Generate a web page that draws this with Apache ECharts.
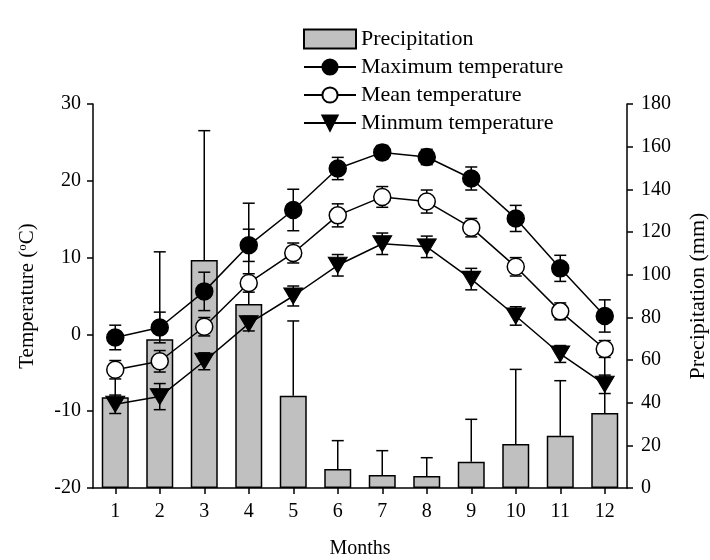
<!DOCTYPE html>
<html>
<head>
<meta charset="utf-8">
<script src="https://cdn.jsdelivr.net/npm/echarts@6/dist/echarts.min.js"></script>
<style>
  html, body { margin: 0; padding: 0; background: #fff; }
  #chart { width: 710px; height: 560px; }
</style>
</head>
<body>
<div id="chart"></div>
<script>
// data
var months = ['1', '2', '3', '4', '5', '6', '7', '8', '9', '10', '11', '12'];
var precip = [42.5, 69.7, 106.9, 86.3, 43.3, 8.9, 6.1, 5.6, 12.3, 20.6, 24.5, 35.2];
var precipErr = [12, 41, 60.6, 47.2, 35, 13.3, 11.4, 8.6, 19.9, 35, 25.8, 30];
var tMax = [-0.4, 0.9, 5.6, 11.6, 16.2, 21.6, 23.7, 23.1, 20.3, 15.1, 8.6, 2.4];
var tMaxErr = [1.6, 2.0, 2.5, 2.1, 2.7, 1.45, 0.9, 1.0, 1.5, 1.7, 1.7, 2.1];
var tMean = [-4.6, -3.5, 1.0, 6.7, 10.6, 15.5, 17.9, 17.3, 13.9, 8.8, 3.0, -1.9];
var tMeanErr = [1.2, 1.4, 1.2, 1.2, 1.3, 1.5, 1.35, 1.5, 1.2, 1.2, 1.1, 1.1];
var tMin = [-9.1, -8.1, -3.5, 1.4, 5.0, 9.0, 11.8, 11.4, 7.2, 2.4, -2.55, -6.5];
var tMinErr = [1.2, 1.7, 1.1, 0.95, 1.3, 1.4, 1.4, 1.4, 1.4, 1.2, 1.1, 1.2];

var FONT = '"Liberation Serif", "Times New Roman", serif';

// build [index, low, high] for error bars
function errData(vals, errs, upOnly) {
  return vals.map(function (v, i) {
    return [i, upOnly ? v : v - errs[i], v + errs[i]];
  });
}

function makeErrRender(upOnly) {
  return function (params, api) {
    var lo = api.coord([api.value(0), api.value(1)]);
    var hi = api.coord([api.value(0), api.value(2)]);
    var hw = 6;
    var st = { stroke: '#000', lineWidth: 1.5 };
    var kids = [
      { type: 'line', shape: { x1: lo[0], y1: lo[1], x2: hi[0], y2: hi[1] }, style: st },
      { type: 'line', shape: { x1: hi[0] - hw, y1: hi[1], x2: hi[0] + hw, y2: hi[1] }, style: st }
    ];
    if (!upOnly) {
      kids.push({ type: 'line', shape: { x1: lo[0] - hw, y1: lo[1], x2: lo[0] + hw, y2: lo[1] }, style: st });
    }
    return { type: 'group', children: kids };
  };
}

var axisLine = { show: true, onZero: false, lineStyle: { color: '#000', width: 1.5 } };
var axisTick = { show: true, length: 6, lineStyle: { color: '#000', width: 1.5 } };
var axisLabel = { color: '#000', fontFamily: FONT, fontSize: 20 };

var chart = echarts.init(document.getElementById('chart'));
chart.setOption({
  animation: false,
  backgroundColor: '#fff',
  textStyle: { fontFamily: FONT },
  grid: { left: 93, right: 83, top: 104, bottom: 72, outerBoundsMode: 'none', containLabel: false },
  legend: {
    orient: 'vertical',
    left: 298,
    top: 23,
    itemWidth: 52,
    itemHeight: 19,
    itemGap: 6,
    symbolRotate: 'inherit',
    textStyle: { color: '#000', fontFamily: FONT, fontSize: 22 },
    data: [
      { name: 'Precipitation', icon: 'rect' },
      'Maximum temperature', 'Mean temperature', 'Minmum temperature'
    ]
  },
  xAxis: {
    type: 'category',
    data: months,
    name: 'Months',
    nameLocation: 'middle',
    nameGap: 51,
    nameTextStyle: { color: '#000', fontFamily: FONT, fontSize: 20 },
    axisLine: axisLine,
    axisTick: Object.assign({ alignWithLabel: true }, axisTick),
    axisLabel: Object.assign({ margin: 14 }, axisLabel),
    splitLine: { show: false }
  },
  yAxis: [{
    type: 'value',
    min: -20, max: 30, interval: 10,
    name: '{a|Temperature (}{s|o}{a|C)}',
    nameLocation: 'middle',
    nameRotate: 90,
    nameGap: 55,
    nameTextStyle: {
      rich: {
        a: { color: '#000', fontFamily: FONT, fontSize: 21 },
        s: { color: '#000', fontFamily: FONT, fontSize: 13, verticalAlign: 'top', padding: [0, 0, 9, 0] }
      }
    },
    axisLine: axisLine,
    axisTick: axisTick,
    axisLabel: Object.assign({ margin: 12 }, axisLabel),
    splitLine: { show: false }
  }, {
    type: 'value',
    min: 0, max: 180, interval: 20,
    name: 'Precipitation (mm)',
    nameLocation: 'middle',
    nameRotate: 90,
    nameGap: 60,
    nameTextStyle: { color: '#000', fontFamily: FONT, fontSize: 22 },
    axisLine: axisLine,
    axisTick: axisTick,
    axisLabel: Object.assign({ margin: 14 }, axisLabel),
    splitLine: { show: false }
  }],
  series: [{
    name: 'Precipitation',
    type: 'bar',
    yAxisIndex: 1,
    data: precip,
    barWidth: 27,
    z: 1,
    itemStyle: { color: '#c0c0c0', borderColor: '#000', borderWidth: 1.5 }
  }, {
    type: 'custom',
    yAxisIndex: 1,
    z: 2,
    renderItem: makeErrRender(true),
    data: errData(precip, precipErr, true)
  }, {
    type: 'custom', z: 3, renderItem: makeErrRender(false), data: errData(tMax, tMaxErr)
  }, {
    type: 'custom', z: 3, renderItem: makeErrRender(false), data: errData(tMean, tMeanErr)
  }, {
    type: 'custom', z: 3, renderItem: makeErrRender(false), data: errData(tMin, tMinErr)
  }, {
    name: 'Maximum temperature',
    type: 'line',
    data: tMax,
    z: 4,
    symbol: 'circle',
    symbolSize: 17,
    lineStyle: { color: '#000', width: 1.5 },
    itemStyle: { color: '#000', borderColor: '#000', borderWidth: 1.5 }
  }, {
    name: 'Mean temperature',
    type: 'line',
    data: tMean,
    z: 4,
    symbol: 'circle',
    symbolSize: 17,
    lineStyle: { color: '#000', width: 1.5 },
    itemStyle: { color: '#fff', borderColor: '#000', borderWidth: 1.5 }
  }, {
    name: 'Minmum temperature',
    type: 'line',
    data: tMin,
    z: 4,
    symbol: 'triangle',
    symbolRotate: 180,
    symbolSize: [19, 16],
    lineStyle: { color: '#000', width: 1.5 },
    itemStyle: { color: '#000', borderColor: '#000', borderWidth: 1 }
  }]
});
</script>
</body>
</html>
